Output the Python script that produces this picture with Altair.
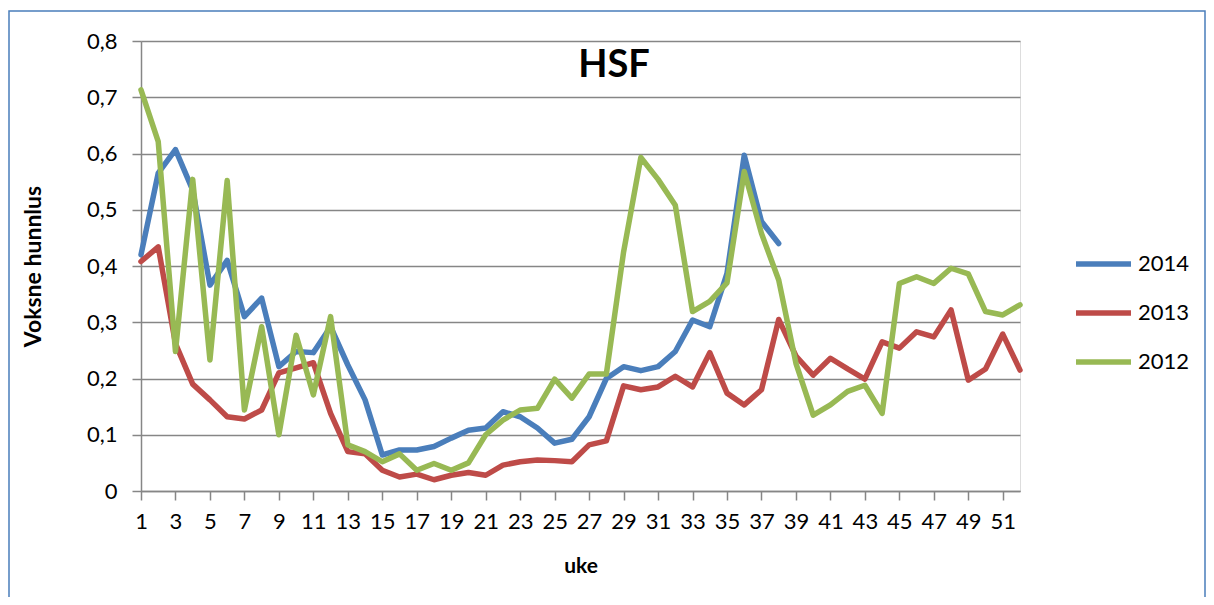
import altair as alt
import pandas as pd

weeks = list(range(1, 53))
v2014 = [0.42, 0.565, 0.607, 0.535, 0.366, 0.41, 0.31, 0.343, 0.221, 0.248,
         0.246, 0.292, 0.224, 0.162, 0.064, 0.073, 0.073, 0.079, 0.094, 0.108,
         0.112, 0.141, 0.132, 0.112, 0.085, 0.092, 0.132, 0.2, 0.221, 0.214,
         0.221, 0.248, 0.304, 0.292, 0.387, 0.597, 0.479, 0.44]
v2013 = [0.408, 0.434, 0.262, 0.19, 0.162, 0.132, 0.128, 0.144, 0.21, 0.219,
         0.228, 0.138, 0.07, 0.066, 0.037, 0.025, 0.030, 0.02, 0.028, 0.033,
         0.028, 0.046, 0.052, 0.055, 0.054, 0.052, 0.082, 0.089, 0.187, 0.18,
         0.185, 0.204, 0.185, 0.246, 0.174, 0.153, 0.18, 0.305, 0.24, 0.206,
         0.236, 0.217, 0.199, 0.265, 0.254, 0.283, 0.274, 0.322, 0.197, 0.217,
         0.279, 0.215]
v2012 = [0.713, 0.621, 0.248, 0.554, 0.233, 0.552, 0.144, 0.292, 0.1, 0.277,
         0.171, 0.31, 0.082, 0.07, 0.052, 0.066, 0.037, 0.049, 0.037, 0.05,
         0.1, 0.126, 0.144, 0.147, 0.199, 0.165, 0.208, 0.208, 0.425, 0.593,
         0.554, 0.508, 0.319, 0.337, 0.37, 0.568, 0.458, 0.375, 0.227, 0.135,
         0.153, 0.177, 0.188, 0.138, 0.369, 0.381, 0.369, 0.396, 0.386, 0.319,
         0.313, 0.331]
series_names = ["2014", "2013", "2012"]
series_colors = ["#4A7EBB", "#BE4B48", "#98B954"]
x_ticks = list(range(1, 53, 2))
y_ticks = [0, 0.1, 0.2, 0.3, 0.4, 0.5, 0.6, 0.7, 0.8]
chart_title = "HSF"

rows = []
for name, vals in zip(series_names, [v2014, v2013, v2012]):
    for w, v in zip(weeks, vals):
        rows.append({"uke": w, "verdi": v, "serie": name})
df = pd.DataFrame(rows)

FONT = "Lato"
W, H = 879, 450
PL, PT = 133, 33
PR = 1198 - PL - W
PB = 589 - PT - H

lines = alt.Chart(df).mark_line(strokeWidth=5.5, strokeJoin="round", strokeCap="round").encode(
    x=alt.X("uke:Q", scale=alt.Scale(domain=[1, 52], nice=False, zero=False),
            axis=alt.Axis(values=x_ticks, title="uke", grid=False,
                          tickSize=9, tickColor="#868686", tickWidth=1.5,
                          domainColor="#868686", domainWidth=1.5,
                          labelFont=FONT, labelFontSize=22, labelColor="black",
                          labelPadding=11, labelFlush=False, labelOverlap=False,
                          titleFont=FONT, titleFontSize=21, titleFontWeight="bold",
                          titleColor="black", titleX=W / 2, titleY=75,
                          titleBaseline="middle")),
    y=alt.Y("verdi:Q", scale=alt.Scale(domain=[0, 0.8], nice=False),
            axis=alt.Axis(values=y_ticks, title="Voksne hunnlus",
                          labelExpr="datum.value == 0 ? '0' : replace(format(datum.value, '.1f'), '.', ',')",
                          grid=True, gridColor="#868686", gridWidth=1.5,
                          tickSize=9, tickColor="#868686", tickWidth=1.5,
                          domainColor="#868686", domainWidth=1.5,
                          labelFont=FONT, labelFontSize=22, labelColor="black",
                          labelPadding=15, labelFlush=False,
                          titleFont=FONT, titleFontSize=23, titleFontWeight="bold",
                          titleColor="black", titleX=-108, titleY=H / 2,
                          titleAngle=270, titleAlign="center", titleBaseline="middle")),
    color=alt.Color("serie:N",
                    scale=alt.Scale(domain=series_names, range=series_colors),
                    legend=alt.Legend(title=None, orient="none", legendX=932, legendY=213,
                                      symbolType="stroke", symbolSize=3025,
                                      symbolStrokeWidth=5.5, clipHeight=20, rowPadding=27,
                                      labelFont=FONT, labelFontSize=22, labelColor="black",
                                      labelOffset=4)),
    order=alt.Order("uke:Q"),
)

title_text = alt.Chart(pd.DataFrame({"t": [chart_title]})).mark_text(
    font=FONT, fontSize=38, fontWeight="bold", color="black",
    align="center", baseline="alphabetic"
).encode(x=alt.value(473), y=alt.value(36), text="t:N")

frame = alt.Chart(pd.DataFrame({"k": [0]})).mark_rect(
    fill=None, stroke="#4A7EBB", strokeWidth=1.5, clip=False
).encode(
    x=alt.value(-132), x2=alt.value(1064), y=alt.value(-30), y2=alt.value(620)
)

chart = alt.layer(frame, lines, title_text).properties(
    width=W, height=H,
    autosize=alt.AutoSizeParams(type="none"),
    padding={"left": PL, "top": PT, "right": PR, "bottom": PB},
).configure_view(stroke=None).configure(background="white")

chart.save("out.html", embed_options={"renderer": "svg", "actions": False})
